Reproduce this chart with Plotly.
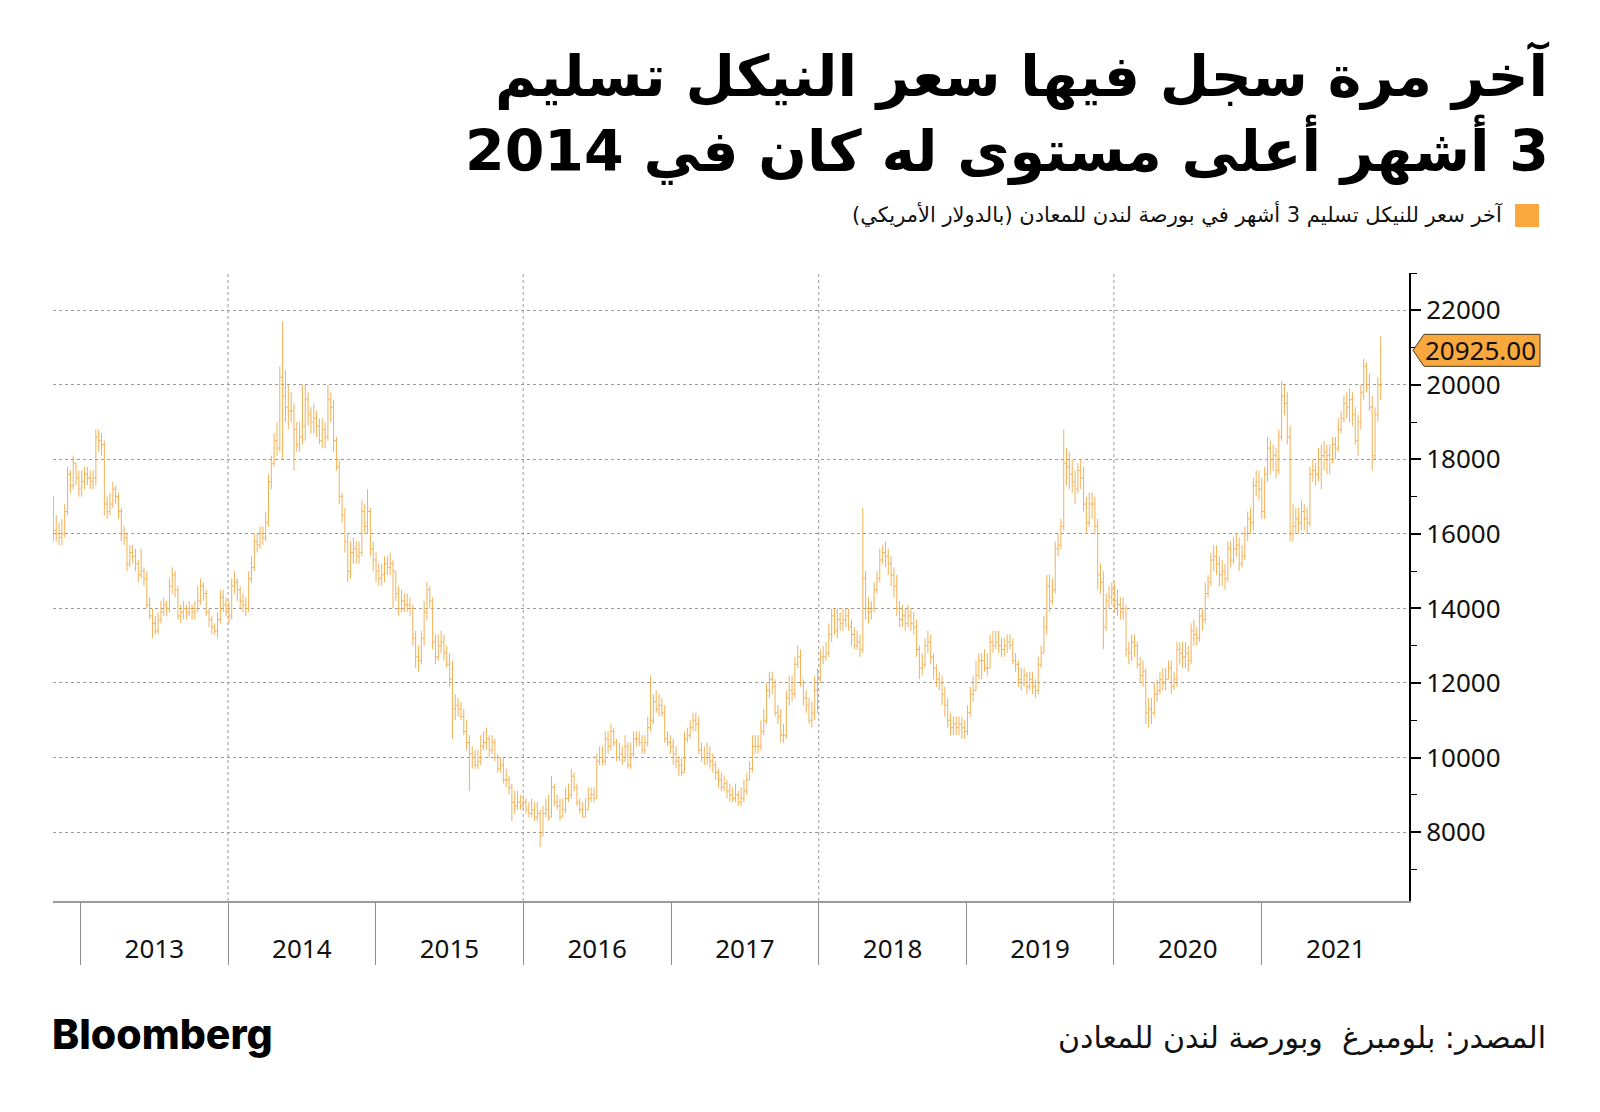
import numpy as np
import pandas as pd
import plotly.graph_objects as go

# Weekly LME 3-month nickel bars, values in hundreds of USD
start_week = "2012-10-26"
first_open = 163

close = [
    161, 160, 159, 160, 166, 176, 173, 179, 175, 172,
    174, 176, 175, 174, 175, 186, 185, 184, 168, 166,
    168, 172, 170, 166, 160, 159, 152, 155, 154, 152,
    149, 150, 148, 141, 138, 136, 134, 137, 139, 141,
    140, 146, 149, 145, 138, 139, 140, 139, 140, 139,
    140, 142, 146, 144, 139, 137, 135, 134, 137, 143,
    141, 140, 138, 146, 147, 145, 142, 141, 140, 148,
    151, 158, 157, 160, 159, 163, 174, 179, 185, 183,
    202, 197, 194, 193, 193, 188, 184, 186, 189, 196,
    192, 190, 191, 189, 185, 188, 186, 196, 194, 185,
    178, 170, 165, 158, 150, 155, 156, 154, 155, 166,
    162, 166, 156, 153, 150, 148, 149, 152, 151, 152,
    150, 144, 140, 142, 141, 141, 140, 132, 127, 126,
    132, 139, 145, 142, 131, 127, 130, 131, 128, 125,
    121, 113, 114, 113, 111, 107, 104, 101, 100, 98,
    99, 103, 104, 105, 102, 104, 100, 97, 98, 94,
    94, 92, 88, 87, 88, 87, 88, 86, 85, 86,
    84, 85, 79, 85, 86, 84, 92, 88, 87, 84,
    86, 89, 90, 95, 92, 88, 86, 84, 86, 89,
    90, 89, 99, 100, 99, 105, 103, 107, 104, 100,
    101, 99, 103, 98, 101, 105, 105, 104, 102, 104,
    108, 110, 115, 113, 114, 112, 105, 104, 103, 101,
    99, 98, 96, 105, 106, 108, 110, 109, 102, 100,
    100, 101, 99, 98, 96, 94, 92, 93, 91, 90,
    89, 90, 88, 89, 91, 94, 97, 103, 103, 103,
    107, 110, 118, 121, 119, 112, 111, 106, 106, 116,
    118, 117, 125, 127, 120, 116, 114, 110, 112, 118,
    121, 127, 127, 128, 133, 138, 134, 137, 136, 137,
    138, 135, 133, 130, 131, 129, 148, 140, 139, 140,
    145, 148, 153, 155, 154, 152, 149, 146, 140, 137,
    138, 136, 138, 136, 135, 129, 124, 125, 130, 131,
    127, 124, 121, 120, 117, 114, 110, 108, 109, 108,
    109, 108, 107, 112, 117, 118, 122, 126, 126, 124,
    124, 131, 130, 131, 130, 129, 130, 131, 130, 126,
    125, 121, 120, 122, 119, 121, 119, 118, 125, 128,
    135, 146, 142, 145, 156, 157, 162, 179, 178, 176,
    174, 172, 177, 175, 168, 163, 168, 168, 162, 149,
    147, 135, 142, 143, 145, 142, 141, 139, 140, 129,
    128, 131, 130, 125, 122, 123, 112, 113, 112, 117,
    118, 121, 120, 121, 124, 119, 121, 129, 128, 127,
    128, 126, 134, 133, 132, 138, 137, 144, 147, 153,
    154, 152, 149, 150, 148, 156, 153, 156, 157, 152,
    154, 160, 164, 163, 173, 174, 172, 166, 176, 183,
    180, 181, 177, 186, 197, 195, 186, 160, 162, 164,
    163, 166, 164, 163, 176, 177, 176, 180, 181, 182,
    181, 180, 184, 183, 188, 191, 195, 194, 196, 192,
    185, 190, 198, 205, 200, 194, 181, 192, 200, 209.25,
]

high = [
    170, 165, 163, 164, 168, 178, 177, 181, 179, 177,
    177, 178, 178, 177, 177, 188, 188, 187, 185, 170,
    171, 174, 173, 171, 167, 162, 160, 157, 157, 156,
    153, 156, 151, 150, 143, 140, 138, 139, 142, 143,
    142, 148, 151, 150, 146, 141, 142, 141, 142, 141,
    142, 146, 148, 147, 145, 140, 138, 136, 139, 145,
    145, 143, 142, 148, 150, 148, 146, 144, 143, 150,
    154, 160, 160, 162, 162, 166, 176, 181, 187, 190,
    205, 217, 204, 200, 198, 195, 190, 190, 200, 200,
    198, 194, 195, 193, 191, 191, 190, 200, 198, 196,
    186, 180, 171, 167, 160, 158, 159, 158, 158, 169,
    168, 172, 167, 158, 155, 152, 152, 154, 154, 155,
    153, 150, 146, 145, 144, 144, 143, 141, 134, 130,
    134, 142, 147, 146, 143, 133, 133, 134, 133, 130,
    128, 126, 117, 116, 115, 113, 110, 106, 103, 102,
    102, 106, 107, 108, 106, 106, 105, 101, 100, 100,
    97, 95, 93, 91, 91, 90, 90, 89, 88, 89,
    88, 88, 86, 87, 89, 90, 95, 93, 90, 89,
    89, 92, 93, 97, 96, 93, 89, 88, 89, 92,
    92, 92, 101, 103, 103, 107, 107, 109, 108, 105,
    104, 103, 106, 104, 104, 107, 107, 107, 106, 106,
    111, 122, 117, 118, 117, 116, 114, 107, 106, 105,
    103, 100, 100, 107, 108, 110, 112, 112, 111, 104,
    103, 104, 103, 101, 99, 97, 96, 95, 94, 93,
    92, 93, 91, 92, 94, 96, 99, 106, 106, 106,
    110, 113, 120, 123, 123, 121, 114, 113, 109, 118,
    122, 122, 127, 130, 129, 121, 118, 116, 115, 122,
    124, 129, 130, 131, 136, 140, 140, 140, 139, 140,
    140, 140, 137, 135, 134, 133, 167, 150, 143, 142,
    147, 150, 156, 157, 158, 156, 154, 151, 149, 142,
    141, 140, 141, 140, 139, 137, 130, 128, 132, 134,
    133, 128, 125, 123, 122, 119, 116, 112, 111, 111,
    111, 111, 110, 114, 119, 122, 126, 128, 128, 129,
    128, 133, 134, 134, 134, 132, 132, 133, 133, 132,
    128, 126, 124, 124, 123, 123, 123, 121, 127, 130,
    138, 149, 149, 148, 158, 160, 164, 188, 183, 182,
    180, 177, 179, 180, 178, 170, 171, 171, 170, 164,
    152, 150, 144, 146, 147, 147, 145, 143, 143, 141,
    131, 133, 133, 131, 127, 126, 124, 116, 116, 120,
    121, 123, 124, 124, 126, 126, 123, 131, 131, 131,
    131, 130, 136, 137, 135, 140, 140, 147, 149, 155,
    157, 157, 154, 153, 152, 158, 158, 159, 160, 159,
    157, 162, 166, 167, 175, 177, 177, 175, 178, 186,
    185, 184, 183, 188, 201, 200, 198, 189, 168, 167,
    167, 169, 168, 167, 178, 180, 179, 183, 184, 185,
    184, 184, 186, 186, 191, 193, 197, 198, 199, 198,
    194, 192, 200, 207, 206, 203, 197, 194, 202, 213,
]

low = [
    158, 158, 157, 157, 159, 165, 171, 172, 173, 170,
    170, 172, 173, 172, 172, 173, 182, 181, 165, 164,
    165, 167, 168, 164, 158, 157, 150, 151, 152, 150,
    147, 148, 146, 140, 137, 132, 133, 133, 136, 138,
    138, 139, 144, 143, 137, 136, 137, 137, 138, 137,
    137, 139, 141, 142, 138, 135, 133, 133, 132, 136,
    139, 138, 136, 137, 144, 142, 140, 139, 138, 139,
    147, 150, 155, 156, 157, 158, 162, 172, 178, 181,
    182, 180, 190, 188, 190, 177, 182, 182, 184, 185,
    189, 187, 187, 186, 184, 183, 183, 185, 190, 182,
    177, 168, 163, 155, 147, 148, 152, 152, 152, 154,
    160, 160, 154, 150, 147, 146, 146, 147, 149, 149,
    140, 142, 138, 139, 139, 139, 138, 130, 124, 123,
    125, 130, 137, 140, 129, 125, 126, 128, 126, 124,
    119, 105, 110, 111, 110, 106, 102, 91, 97, 97,
    97, 98, 102, 102, 100, 101, 99, 96, 96, 93,
    92, 90, 83, 85, 86, 86, 86, 85, 84, 84,
    83, 83, 76, 79, 84, 83, 85, 87, 86, 83,
    84, 85, 88, 89, 91, 87, 85, 84, 84, 86,
    88, 88, 89, 98, 98, 98, 101, 102, 103, 99,
    99, 98, 99, 97, 97, 100, 103, 103, 101, 101,
    103, 107, 109, 112, 111, 111, 104, 103, 101, 98,
    97, 95, 95, 96, 104, 105, 107, 107, 101, 99,
    98, 98, 97, 96, 94, 92, 91, 91, 89, 88,
    88, 88, 87, 87, 88, 90, 94, 96, 101, 101,
    102, 106, 109, 116, 117, 111, 109, 104, 104, 105,
    114, 115, 116, 124, 119, 114, 112, 109, 108, 110,
    112, 120, 125, 126, 127, 131, 133, 132, 134, 134,
    135, 134, 130, 129, 129, 127, 128, 137, 136, 137,
    139, 144, 147, 152, 151, 149, 146, 143, 138, 135,
    135, 134, 135, 134, 133, 127, 121, 122, 124, 128,
    125, 121, 119, 118, 114, 111, 108, 106, 106, 106,
    106, 105, 105, 106, 111, 115, 118, 121, 121, 123,
    122, 124, 128, 129, 128, 127, 127, 128, 129, 125,
    123, 119, 118, 119, 117, 118, 117, 116, 117, 124,
    128, 133, 139, 141, 144, 154, 156, 161, 173, 172,
    171, 168, 171, 172, 166, 160, 162, 164, 160, 145,
    144, 129, 134, 140, 141, 139, 138, 137, 137, 127,
    125, 126, 127, 124, 120, 119, 109, 108, 109, 111,
    115, 117, 118, 118, 121, 117, 118, 119, 125, 124,
    124, 123, 125, 130, 130, 131, 134, 136, 143, 146,
    150, 149, 146, 146, 145, 147, 151, 152, 154, 150,
    151, 153, 158, 160, 161, 170, 169, 164, 164, 174,
    176, 177, 175, 176, 185, 192, 184, 158, 158, 160,
    160, 161, 161, 160, 162, 174, 173, 174, 172, 177,
    176, 176, 179, 180, 182, 187, 190, 191, 190, 189,
    184, 181, 188, 196, 198, 193, 177, 180, 190, 196,
]

last_price = 20925.00
grid_years = [2014, 2016, 2018, 2020]

title_line1 = "آخر مرة سجل فيها سعر النيكل تسليم"
title_line2 = "3 أشهر أعلى مستوى له كان في 2014"
series_label = "آخر سعر للنيكل تسليم 3 أشهر في بورصة لندن للمعادن (بالدولار الأمريكي)"
source_text = "المصدر: بلومبرغ  وبورصة لندن للمعادن"

bar_color = "#f4ad4c"
label_color = "#f8a83c"
grid_color = "#9a9a9a"

# build OHLC (open = previous week's close)
c = np.array(close, dtype=float) * 100
h = np.array(high, dtype=float) * 100
l = np.array(low, dtype=float) * 100
o = np.concatenate([[first_open * 100], c[:-1]])
h = np.maximum(h, np.maximum(o, c))
l = np.minimum(l, np.minimum(o, c))
dates = pd.date_range(start_week, periods=len(c), freq="7D")


def rtl(s):
    return "\u202b" + s + "\u202c"


fig = go.Figure()
fig.add_trace(go.Ohlc(
    x=dates, open=o, high=h, low=l, close=c,
    increasing=dict(line=dict(color=bar_color, width=1)),
    decreasing=dict(line=dict(color=bar_color, width=1)),
    tickwidth=0.5,
    opacity=0.95,
    showlegend=False,
))

x_range = ["2012-10-25", "2021-12-31"]
y_range = [6150, 23000]
axis_font = dict(family="Noto Sans", size=26, color="#111111")

# the page body has an 8px margin, so the figure is 8px smaller than the window
fig.update_layout(
    width=1592, height=1104,
    margin=dict(l=45, r=191, t=265, b=211),
    paper_bgcolor="white",
    plot_bgcolor="white",
    showlegend=False,
    xaxis=dict(
        type="date", range=x_range,
        tick0="2013-01-01", dtick="M12", tickformat="%Y",
        ticklabelmode="period",
        ticks="outside", ticklen=62, tickwidth=1, tickcolor="#8c8c8c",
        ticklabelstandoff=-38,
        tickfont=axis_font,
        showgrid=False, zeroline=False,
        showline=True, linecolor=grid_color, linewidth=2,
        rangeslider=dict(visible=False),
    ),
    yaxis=dict(
        side="right", range=y_range,
        tick0=0, dtick=2000, tickformat="d",
        ticks="outside", ticklen=10, tickwidth=2, tickcolor="black",
        tickfont=axis_font,
        showline=True, linecolor="black", linewidth=2,
        showgrid=True, griddash="dot", gridcolor=grid_color, gridwidth=1,
        zeroline=False,
        minor=dict(dtick=1000, tick0=0, ticks="outside", ticklen=6,
                   tickcolor="black", tickwidth=1, showgrid=False),
    ),
    yaxis2=dict(
        range=y_range, overlaying="y", side="left", anchor="x",
        showline=True, linecolor=grid_color, linewidth=3,
        showticklabels=False, ticks="", showgrid=False, zeroline=False,
    ),
)

# vertical dotted grid every second year
for yr in grid_years:
    fig.add_vline(x=pd.Timestamp(f"{yr}-01-01"), layer="below",
                  line=dict(color=grid_color, width=1, dash="dot"))

# last price tag on the right axis
fig.add_shape(
    type="path", xref="paper", yref="y",
    xsizemode="pixel", ysizemode="pixel",
    xanchor=1, yanchor=last_price,
    path="M 4 0 L 15 16 L 131 16 L 131 -16 L 15 -16 Z",
    fillcolor=label_color, line=dict(color="#4a3a20", width=1),
)
fig.add_annotation(
    xref="paper", yref="y", x=1, y=last_price, xanchor="left", yanchor="middle",
    xshift=14, text=f"{last_price:.2f}", showarrow=False,
    font=dict(family="Noto Sans", size=26, color="#111111"),
)

# title
title_font = dict(family="DejaVu Sans", size=57, color="#000000", weight="bold")
fig.add_annotation(xref="paper", yref="paper", x=1.1045, y=1.315,
                   xanchor="right", yanchor="middle", showarrow=False,
                   text=rtl(title_line1), font=title_font)
fig.add_annotation(xref="paper", yref="paper", x=1.1045, y=1.196,
                   xanchor="right", yanchor="middle", showarrow=False,
                   text=rtl(title_line2), font=title_font)

# series key
fig.add_shape(type="rect", xref="paper", yref="paper",
              x0=1.0782, x1=1.0959, y0=1.0732, y1=1.1099,
              fillcolor=label_color, line=dict(width=0))
fig.add_annotation(xref="paper", yref="paper", x=1.0705, y=1.0924,
                   xanchor="right", yanchor="middle", showarrow=False,
                   text=rtl(series_label),
                   font=dict(family="DejaVu Sans", size=21, color="#111111"))

# footer
fig.add_annotation(xref="paper", yref="paper", x=-0.002, y=-0.2118,
                   xanchor="left", yanchor="middle", showarrow=False,
                   text="Bloomberg",
                   font=dict(family="Inter", size=41, color="#000000", weight=800))
fig.add_annotation(xref="paper", yref="paper", x=1.1025, y=-0.218,
                   xanchor="right", yanchor="middle", showarrow=False,
                   text=rtl(source_text),
                   font=dict(family="DejaVu Sans", size=30, color="#111111"))

fig.write_html("out.html")
